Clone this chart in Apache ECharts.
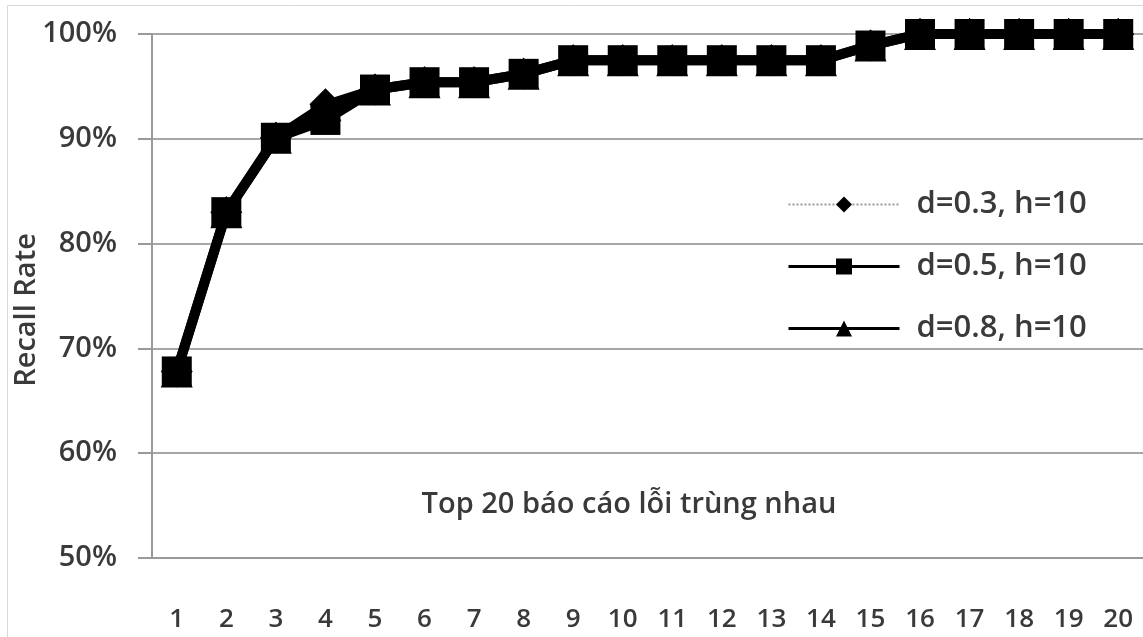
<!DOCTYPE html>
<html>
<head>
<meta charset="utf-8">
<script src="https://cdn.jsdelivr.net/npm/echarts@6/dist/echarts.min.js"></script>
<style>
html,body{margin:0;padding:0;background:#fff;}
#chart{width:1143px;height:637px;}
</style>
</head>
<body>
<div id="chart"></div>
<script>
var categories = ['1','2','3','4','5','6','7','8','9','10','11','12','13','14','15','16','17','18','19','20'];
var seriesNames = ['d=0.3, h=10', 'd=0.5, h=10', 'd=0.8, h=10'];
var d03 = [67.8, 83.0, 90.1, 93.3, 94.7, 95.4, 95.4, 96.2, 97.5, 97.5, 97.5, 97.5, 97.5, 97.5, 98.9, 100, 100, 100, 100, 100];
var d05 = [67.8, 83.0, 90.1, 91.8, 94.7, 95.4, 95.4, 96.2, 97.5, 97.5, 97.5, 97.5, 97.5, 97.5, 98.9, 100, 100, 100, 100, 100];
var d08 = [67.8, 83.0, 90.1, 93.2, 94.7, 95.4, 95.4, 96.2, 97.5, 97.5, 97.5, 97.5, 97.5, 97.5, 98.9, 100, 100, 100, 100, 100];
var yTicks = {min: 50, max: 100, interval: 10};
var xTitle = 'Top 20 báo cáo lỗi trùng nhau';
var yTitle = 'Recall Rate';

var FONT = 'Open Sans';
var TXT = '#3a3a3a';
var GRID = '#a6a6a6';
var W = 600;

var chart = echarts.init(document.getElementById('chart'));
chart.setOption({
  animation: false,
  backgroundColor: '#fff',
  textStyle: {fontFamily: FONT},
  graphic: [
    {type: 'rect', shape: {x: 7.5, y: 5.5, width: 1300, height: 800}, style: {fill: 'none', stroke: '#d9d9d9', lineWidth: 1}, silent: true, z: -10},
    {type: 'text', x: 27, y: 310, rotation: Math.PI / 2, style: {text: yTitle, fill: TXT, font: W + ' 29px "Open Sans"', align: 'center', verticalAlign: 'middle'}},
    {type: 'text', x: 629, y: 505, style: {text: xTitle, fill: TXT, font: W + ' 29px "Open Sans"', align: 'center', verticalAlign: 'middle'}}
  ],
  grid: {left: 152, top: 34, width: 1000, height: 524, containLabel: false},
  legend: {
    orient: 'vertical',
    left: 787,
    top: 189,
    padding: 0,
    itemWidth: 111,
    itemHeight: 20,
    itemGap: 31,
    textStyle: {fontSize: 31, fontWeight: W, color: TXT, fontFamily: FONT, padding: [0, 0, 0, 12]},
    data: [
      {name: seriesNames[0], lineStyle: {width: 2, type: 'dotted', color: '#999'}, itemStyle: {color: '#000'}},
      {name: seriesNames[1], lineStyle: {width: 3, color: '#000'}, itemStyle: {color: '#000'}},
      {name: seriesNames[2], lineStyle: {width: 3, color: '#000'}, itemStyle: {color: '#000'}}
    ]
  },
  xAxis: {
    type: 'category',
    data: categories,
    boundaryGap: true,
    axisLine: {lineStyle: {color: '#999', width: 2}},
    axisTick: {length: 14, lineStyle: {color: '#999', width: 2}},
    axisLabel: {margin: 49, fontSize: 26, fontWeight: W, color: TXT, fontFamily: FONT, interval: 0},
    splitLine: {show: false}
  },
  yAxis: {
    type: 'value',
    min: yTicks.min,
    max: yTicks.max,
    interval: yTicks.interval,
    axisLine: {show: true, lineStyle: {color: '#999', width: 2}},
    axisTick: {show: true, length: 14, lineStyle: {color: '#999', width: 2}},
    axisLabel: {margin: 35, fontSize: 29, fontWeight: W, color: TXT, fontFamily: FONT, formatter: '{value}%'},
    splitLine: {show: true, lineStyle: {color: GRID, width: 2}}
  },
  series: [
    {
      name: seriesNames[0], type: 'line', data: d03,
      symbol: 'diamond', symbolSize: 32,
      itemStyle: {color: '#000'},
      lineStyle: {color: '#999', width: 2, type: 'dotted'},
      z: 2
    },
    {
      name: seriesNames[1], type: 'line', data: d05,
      symbol: 'rect', symbolSize: 30,
      itemStyle: {color: '#000'},
      lineStyle: {color: '#000', width: 10},
      z: 3
    },
    {
      name: seriesNames[2], type: 'line', data: d08,
      symbol: 'triangle', symbolSize: 32,
      itemStyle: {color: '#000'},
      lineStyle: {color: '#000', width: 10},
      z: 4
    }
  ]
});
</script>
</body>
</html>
